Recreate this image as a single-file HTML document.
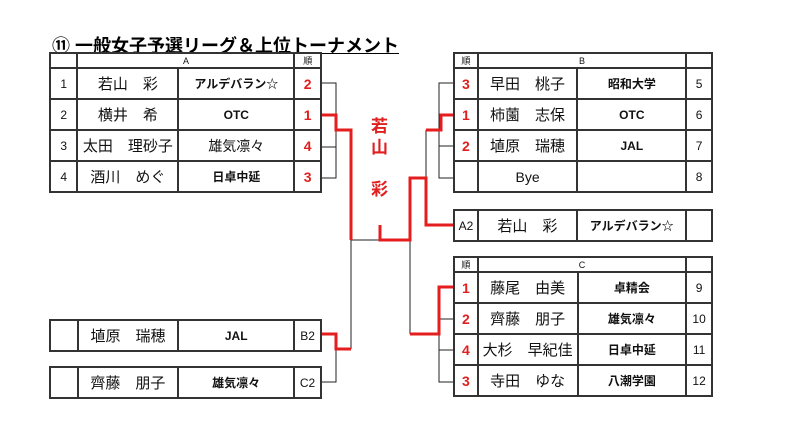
<!DOCTYPE html>
<html><head><meta charset="utf-8"><style>
body{margin:0;width:794px;height:432px;background:#fff;position:relative;overflow:hidden;font-family:"Liberation Sans","Noto Sans CJK JP",sans-serif;}
.t{position:absolute;border-collapse:collapse;}
.t td{border:2px solid #333;padding:0;text-align:center;color:#111;white-space:nowrap;overflow:hidden;}
.h td{height:12px;font-size:9px;}
.r td{height:29px;}
.nm{font-size:15px;}
.tm{font-size:12px;font-weight:bold;}
.n{font-size:12px;}
.rk{color:#e02020 !important;font-weight:bold;font-size:14px;}
.title{position:absolute;left:52px;top:32px;font-size:18px;font-weight:bold;text-decoration:underline;}
.v{position:absolute;color:#e02020;font-weight:bold;font-size:17px;left:371px;}
svg{position:absolute;left:0;top:0;}
</style></head><body>
<div class="title">⑪&nbsp;一般女子予選リーグ＆上位トーナメント</div>

<table class="t" style="left:49px;top:52px;width:273px">
<colgroup><col style="width:28px"><col style="width:101px"><col style="width:117px"><col style="width:27px"></colgroup>
<tr class="h"><td></td><td colspan="2">A</td><td>順</td></tr>
<tr class="r"><td class="n">1</td><td class="nm">若山　彩</td><td class="tm">アルデバラン☆</td><td class="rk">2</td></tr>
<tr class="r"><td class="n">2</td><td class="nm">横井　希</td><td class="tm">OTC</td><td class="rk">1</td></tr>
<tr class="r"><td class="n">3</td><td class="nm">太田　理砂子</td><td class="nm" style="font-size:14px">雄気凛々</td><td class="rk">4</td></tr>
<tr class="r"><td class="n">4</td><td class="nm">酒川　めぐ</td><td class="tm">日卓中延</td><td class="rk">3</td></tr>
</table>

<table class="t" style="left:49px;top:319px;width:273px">
<colgroup><col style="width:28px"><col style="width:101px"><col style="width:117px"><col style="width:27px"></colgroup>
<tr class="r"><td></td><td class="nm">埴原　瑞穂</td><td class="tm">JAL</td><td class="n">B2</td></tr>
</table>
<table class="t" style="left:49px;top:366px;width:273px">
<colgroup><col style="width:28px"><col style="width:101px"><col style="width:117px"><col style="width:27px"></colgroup>
<tr class="r"><td></td><td class="nm">齊藤　朋子</td><td class="tm">雄気凛々</td><td class="n">C2</td></tr>
</table>

<table class="t" style="left:453px;top:52px;width:260px">
<colgroup><col style="width:24px"><col style="width:100px"><col style="width:110px"><col style="width:26px"></colgroup>
<tr class="h"><td>順</td><td colspan="2">B</td><td></td></tr>
<tr class="r"><td class="rk">3</td><td class="nm">早田　桃子</td><td class="tm">昭和大学</td><td class="n">5</td></tr>
<tr class="r"><td class="rk">1</td><td class="nm">柿薗　志保</td><td class="tm">OTC</td><td class="n">6</td></tr>
<tr class="r"><td class="rk">2</td><td class="nm">埴原　瑞穂</td><td class="tm">JAL</td><td class="n">7</td></tr>
<tr class="r"><td></td><td class="nm" style="font-size:14px">Bye</td><td></td><td class="n">8</td></tr>
</table>

<table class="t" style="left:453px;top:209px;width:260px">
<colgroup><col style="width:24px"><col style="width:100px"><col style="width:110px"><col style="width:26px"></colgroup>
<tr class="r"><td class="n">A2</td><td class="nm">若山　彩</td><td class="tm">アルデバラン☆</td><td></td></tr>
</table>

<table class="t" style="left:453px;top:256px;width:260px">
<colgroup><col style="width:24px"><col style="width:100px"><col style="width:110px"><col style="width:26px"></colgroup>
<tr class="h"><td>順</td><td colspan="2">C</td><td></td></tr>
<tr class="r"><td class="rk">1</td><td class="nm">藤尾　由美</td><td class="tm">卓精会</td><td class="n">9</td></tr>
<tr class="r"><td class="rk">2</td><td class="nm">齊藤　朋子</td><td class="tm">雄気凛々</td><td class="n">10</td></tr>
<tr class="r"><td class="rk">4</td><td class="nm">大杉　早紀佳</td><td class="tm">日卓中延</td><td class="n">11</td></tr>
<tr class="r"><td class="rk">3</td><td class="nm">寺田　ゆな</td><td class="tm">八潮学園</td><td class="n">12</td></tr>
</table>

<div class="v" style="top:112px">若</div>
<div class="v" style="top:133px">山</div>
<div class="v" style="top:175px">彩</div>

<svg width="794" height="432">
<g stroke="#222" stroke-width="1" fill="none">
<polyline points="322,83 336,83 336,178 322,178"/>
<line x1="322" y1="147" x2="336" y2="147"/>
<line x1="351" y1="240" x2="351" y2="349"/>
<line x1="351" y1="240" x2="410" y2="240"/>
<line x1="410" y1="240" x2="410" y2="334"/>
<polyline points="322,382 336,382 336,349"/>
<polyline points="453,83 439,83 439,178 453,178"/>
<line x1="439" y1="146" x2="453" y2="146"/>
<line x1="426" y1="130" x2="426" y2="178"/>
<polyline points="439,334 439,382 453,382"/>
<line x1="439" y1="319" x2="453" y2="319"/>
<line x1="439" y1="350" x2="453" y2="350"/>
</g>
<g stroke="#e41e1e" stroke-width="3" fill="none">
<polyline points="322,115 336,115 336,130 351,130 351,240"/>
<polyline points="380,225 380,240 410,240 410,178 426,178 426,225 453,225"/>
<polyline points="453,115 441,115 441,130 426,130"/>
<polyline points="322,334 336,334 336,349 351,349"/>
<polyline points="410,334 439,334 439,287 453,287"/>
</g>
</svg>
</body></html>
